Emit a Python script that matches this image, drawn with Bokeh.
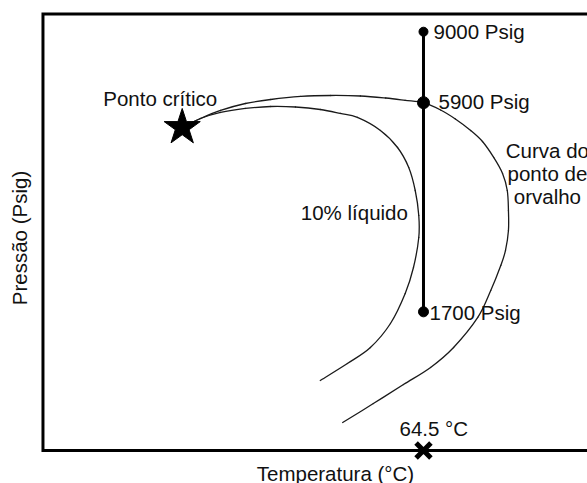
import numpy as np
from bokeh.plotting import figure
from bokeh.models import Range1d, ColumnDataSource
from bokeh.core.properties import value
from bokeh.embed import file_html
from bokeh.resources import INLINE

# Schematic phase envelope: temperature (°C) vs pressure (psig)
critical_T = 23.6
critical_P = 5091

# Dew point curve
dew_T = [23.6, 26.7, 30.1, 34.3, 38.6, 43.7, 48.7, 53.8, 58.1, 61.4, 64.5, 67.4,
         69.9, 72.5, 74.5, 76.4, 77.9, 78.7, 78.9, 78.9, 78.4, 77.6, 75.9, 73.7,
         69.6, 65.7, 61.1, 56.0, 50.8]
dew_P = [5091, 5370, 5633, 5871, 6013, 6122, 6158, 6140, 6067, 5985, 5900, 5649,
         5355, 5001, 4683, 4259, 3871, 3499, 3107, 2758, 2449, 2240, 1930, 1644,
         1375, 1221, 1103, 985, 880]

# 10 % liquid quality line
liq_T = [23.6, 26.7, 30.1, 34.3, 38.6, 42.8, 47.0, 50.4, 53.3, 57.2, 60.1, 62.0,
         63.1, 63.7, 63.7, 62.8, 61.4, 58.9, 55.5, 51.6, 47.0]
liq_P = [5091, 5370, 5566, 5700, 5768, 5751, 5666, 5533, 5403, 5001, 4519, 4012,
         3499, 3016, 2646, 2213, 1896, 1586, 1375, 1250, 1130]

# Isothermal depletion path
path_T = 64.5
path_P = [9000, 5900, 1700]
path_labels = ["9000 Psig", "5900 Psig", "1700 Psig"]
path_label = "64.5 °C"

# Text placed on the diagram
liq_label = "10% líquido"
liq_label_T, liq_label_P = 43.7, 3061
dew_label = ["Curva do", "ponto de", "orvalho"]
dew_label_T = 85.5
dew_label_P = [4426, 3871, 3386]

x_title = "Temperatura (°C)"
y_title = "Pressão (Psig)"

# Axis box and visible window
T_AXIS, P_AXIS, P_TOP = 0.0, 745, 10000
T_LO, T_HI = -7.2, 92.3
P_LO, P_HI = 612.2, 10836

FONT = value("Liberation Sans")
FS = value("20.5px")
INK = "#111111"


def smooth_path(xs, ys):
    """Catmull-Rom curve through the points, as cubic Bezier pieces
    (computed in T / log10 P, the plot's own linear space)."""
    x = np.asarray(xs, float)
    y = np.log10(np.asarray(ys, float))
    xp = np.concatenate([[x[0]], x, [x[-1]]])
    yp = np.concatenate([[y[0]], y, [y[-1]]])
    n = len(x) - 1
    x0, y0 = xp[1:n + 1], yp[1:n + 1]
    x1, y1 = xp[2:n + 2], yp[2:n + 2]
    cx0 = x0 + (x1 - xp[0:n]) / 6
    cy0 = y0 + (y1 - yp[0:n]) / 6
    cx1 = x1 - (xp[3:n + 3] - x0) / 6
    cy1 = y1 - (yp[3:n + 3] - y0) / 6
    return ColumnDataSource(dict(x0=x0, y0=10 ** y0, x1=x1, y1=10 ** y1,
                                 cx0=cx0, cy0=10 ** cy0, cx1=cx1, cy1=10 ** cy1))


p = figure(width=587, height=483,
           x_range=Range1d(T_LO, T_HI), y_range=Range1d(P_LO, P_HI),
           y_axis_type="log", x_axis_location=None, y_axis_location=None,
           output_backend="svg", toolbar_location=None,
           min_border=0, min_border_left=0, min_border_right=0,
           min_border_top=0, min_border_bottom=0)
p.outline_line_color = None
p.grid.visible = False
p.background_fill_color = "white"
p.border_fill_color = "white"

# Box: left, top and bottom edges of the axes
p.line([T_HI, T_AXIS, T_AXIS, T_HI], [P_TOP, P_TOP, P_AXIS, P_AXIS],
       line_color="black", line_width=3, line_join="miter")

# Envelope curves
for xs, ys in [(dew_T, dew_P), (liq_T, liq_P)]:
    p.bezier("x0", "y0", "x1", "y1", "cx0", "cy0", "cx1", "cy1",
             source=smooth_path(xs, ys), line_color="#1a1a1a", line_width=1.3,
             line_cap="round")

# Vertical path at constant temperature
p.segment(x0=[path_T], y0=[min(path_P)], x1=[path_T], y1=[max(path_P)],
          line_color="black", line_width=3)

dots = ColumnDataSource(dict(
    T=[path_T] * len(path_P), P=path_P, label=path_labels,
    size=[9, 12, 10], dx=[10, 15, 6], dy=[0, -1.5, 0.5]))
p.scatter("T", "P", source=dots, size="size", color="black", marker="circle")

common = dict(text_font=FONT, text_font_size=FS, text_color=INK,
              text_baseline="middle")

p.text("T", "P", text="label", source=dots, x_offset="dx", y_offset="dy",
       text_align="left", **common)

# Critical point
p.scatter([critical_T], [critical_P], marker="star", size=38, color="black")
p.text([critical_T], [critical_P], text=["Ponto crítico"], x_offset=-79,
       y_offset=-28.5, text_align="left", **common)

# Temperature mark on the axis
p.scatter([path_T], [P_AXIS], marker="x", size=21, line_width=5,
          line_color="black")
p.text([path_T], [P_AXIS], text=[path_label], x_offset=-24, y_offset=-22,
       text_align="left", **common)

p.text([liq_label_T], [liq_label_P], text=[liq_label], text_align="left",
       **common)
p.text([dew_label_T] * len(dew_label), dew_label_P, text=dew_label,
       text_align="center", **common)

# Axis titles
p.text([T_AXIS], [P_AXIS], text=[x_title], x_offset=292.5, y_offset=22.5,
       text_align="center", **common)
p.text([T_AXIS], [np.sqrt(P_AXIS * P_TOP)], text=[y_title], angle=np.pi / 2,
       x_offset=-23.3, y_offset=5.75, text_align="center", **common)

open("out.html", "w").write(file_html(p, INLINE))
